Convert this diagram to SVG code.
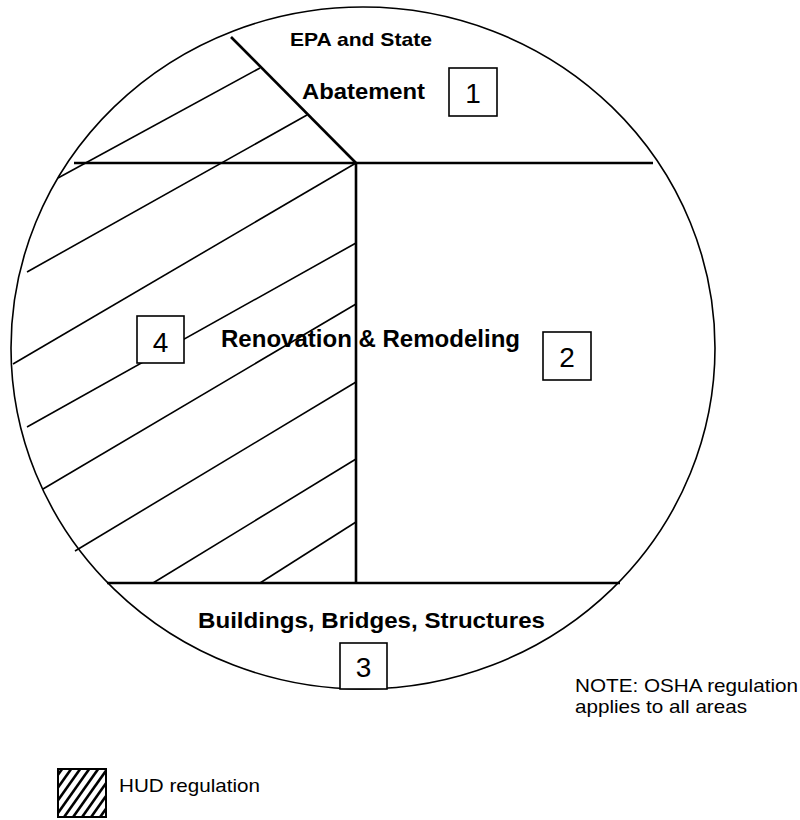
<svg xmlns="http://www.w3.org/2000/svg" width="800" height="820" viewBox="0 0 800 820">
<defs>
<style>
.outline{fill:none;stroke:#000;stroke-width:1.6}
.div{fill:none;stroke:#000;stroke-width:2.6;stroke-linecap:butt}
.hatch{fill:none;stroke:#000;stroke-width:1.6}
.box{fill:#fff;stroke:#000;stroke-width:1.6}
.lbl{font-family:"Liberation Sans",Arial,Helvetica,sans-serif;font-weight:bold;fill:#000}
.num{font-family:"Liberation Sans",Arial,Helvetica,sans-serif;font-size:28px;fill:#000;text-anchor:middle}
.note{font-family:"Liberation Sans",Arial,Helvetica,sans-serif;font-size:19px;fill:#000}
</style>
<clipPath id="legclip"><rect x="58" y="769" width="48" height="48"/></clipPath>
</defs>
<rect width="800" height="820" fill="#fff"/>
<g id="hatching" class="hatch">
<line x1="58" y1="178" x2="260" y2="68"/>
<line x1="27" y1="272" x2="307" y2="115"/>
<line x1="13" y1="364" x2="356" y2="163"/>
<line x1="27" y1="427" x2="356" y2="243"/>
<line x1="43" y1="489" x2="356" y2="304"/>
<line x1="75" y1="551" x2="356" y2="382"/>
<line x1="153" y1="583" x2="356" y2="459"/>
<line x1="260" y1="583" x2="356" y2="522"/>
</g>
<ellipse id="outline" class="outline" cx="363" cy="348" rx="352" ry="341"/>
<g id="connectors" class="div">
<line x1="231" y1="37" x2="356" y2="163"/>
<line x1="74" y1="163" x2="653" y2="163"/>
<line x1="356" y1="163" x2="356" y2="583"/>
<line x1="107" y1="583" x2="620" y2="583"/>
</g>
<g id="area1">
<text class="lbl" x="290" y="46" font-size="19" textLength="142" lengthAdjust="spacingAndGlyphs">EPA and State</text>
<text class="lbl" x="302" y="99" font-size="22" textLength="123" lengthAdjust="spacingAndGlyphs">Abatement</text>
<rect class="box" x="449" y="68" width="48" height="48"/>
<text class="num" x="473" y="103">1</text>
</g>
<g id="area2">
<text class="lbl" x="221" y="347" font-size="23.5" textLength="299" lengthAdjust="spacingAndGlyphs">Renovation &amp; Remodeling</text>
<rect class="box" x="543" y="332" width="48" height="48"/>
<text class="num" x="567" y="367">2</text>
</g>
<g id="area3">
<text class="lbl" x="198" y="628" font-size="22.5" textLength="347" lengthAdjust="spacingAndGlyphs">Buildings, Bridges, Structures</text>
<rect class="box" x="340" y="643" width="47" height="46"/>
<text class="num" x="363.5" y="677">3</text>
</g>
<g id="area4">
<rect class="box" x="137" y="316" width="47" height="47"/>
<text class="num" x="160.5" y="352">4</text>
</g>
<g id="note">
<text class="note" x="575" y="692" textLength="223" lengthAdjust="spacingAndGlyphs">NOTE: OSHA regulation</text>
<text class="note" x="575" y="713" textLength="172" lengthAdjust="spacingAndGlyphs">applies to all areas</text>
</g>
<g id="legend">
<g clip-path="url(#legclip)" stroke="#000" stroke-width="2.6">
<line x1="40" y1="800" x2="70" y2="758"/>
<line x1="49" y1="800" x2="79" y2="758"/>
<line x1="44" y1="820" x2="88" y2="758"/>
<line x1="53" y1="820" x2="97" y2="758"/>
<line x1="62" y1="820" x2="106" y2="758"/>
<line x1="71" y1="820" x2="115" y2="758"/>
<line x1="80" y1="820" x2="124" y2="758"/>
<line x1="89" y1="820" x2="133" y2="758"/>
<line x1="98" y1="820" x2="142" y2="758"/>
</g>
<rect x="58" y="769" width="48" height="48" fill="none" stroke="#000" stroke-width="2"/>
<text class="note" x="119" y="792" textLength="141" lengthAdjust="spacingAndGlyphs">HUD regulation</text>
</g>
</svg>
